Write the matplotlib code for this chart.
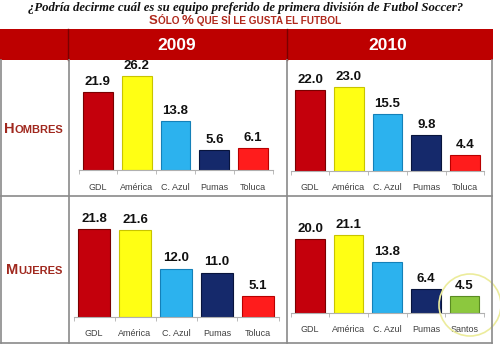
import matplotlib.pyplot as plt
from matplotlib.patches import Rectangle, Ellipse
from matplotlib.lines import Line2D
from matplotlib.offsetbox import TextArea, HPacker, AnnotationBbox

# data
teams = ["GDL", "América", "C. Azul", "Pumas", "Toluca"]
teams_m2010 = ["GDL", "América", "C. Azul", "Pumas", "Santos"]
hombres_2009 = [21.9, 26.2, 13.8, 5.6, 6.1]
hombres_2010 = [22.0, 23.0, 15.5, 9.8, 4.4]
mujeres_2009 = [21.8, 21.6, 12.0, 11.0, 5.1]
mujeres_2010 = [20.0, 21.1, 13.8, 6.4, 4.5]
years = ["2009", "2010"]

team_colors = {
    "GDL": ("#c4000c", "#7a0000"),
    "América": ("#ffff14", "#c8c400"),
    "C. Azul": ("#2cb2ee", "#1480b8"),
    "Pumas": ("#15296b", "#08143c"),
    "Toluca": ("#ff1c1c", "#b80000"),
    "Santos": ("#8cc83e", "#5a8c22"),
}

W, H = 500, 353
fig = plt.figure(figsize=(W / 100, H / 100), dpi=100)
fig.patch.set_facecolor("white")


def fx(x):
    return x / W


def fy(y):
    return 1 - y / H


def small_caps(parts, xy, color, big=10, small=7.5, family="Liberation Sans"):
    boxes = []
    for txt, is_big in parts:
        boxes.append(TextArea(txt, textprops=dict(size=big if is_big else small,
                                                  color=color, weight="bold",
                                                  family=family)))
    pack = HPacker(children=boxes, align="baseline", pad=0, sep=0)
    ab = AnnotationBbox(pack, xy, xycoords="figure fraction", frameon=False,
                        box_alignment=(0.5, 0.5), pad=0)
    fig.add_artist(ab)


# title
fig.text(fx(246), fy(8), "¿Podría decirme cuál es su equipo preferido de primera división de Futbol Soccer?",
         ha="center", va="center", family="Liberation Serif", style="italic",
         weight="bold", size=9.2, color="#111111")
small_caps([("S", True), ("ÓLO ", False), ("%", True), (" QUE SÍ LE GUSTA EL FUTBOL", False)],
           (fx(245), fy(20.5)), "#b0281c", big=9.5, small=7.2)

# header band
fig.add_artist(Rectangle((fx(0), fy(60)), fx(493), (60 - 29) / H,
                         transform=fig.transFigure, facecolor="#bd0000", edgecolor="none"))
for xv in (68, 287):
    fig.add_artist(Line2D([fx(xv), fx(xv)], [fy(60), fy(29)], transform=fig.transFigure,
                          color="#7a0000", lw=1))
fig.text(fx(177), fy(45), years[0], ha="center", va="center", color="white",
         weight="bold", size=12.5, family="Liberation Sans")
fig.text(fx(388), fy(45), years[1], ha="center", va="center", color="white",
         weight="bold", size=12.5, family="Liberation Sans")

# table grid
grid_kw = dict(transform=fig.transFigure, color="#8a8a8a", lw=1.2)
fig.add_artist(Line2D([fx(1), fx(1)], [fy(60), fy(343)], **grid_kw))
fig.add_artist(Line2D([fx(68.5), fx(68.5)], [fy(60), fy(343)], **grid_kw))
fig.add_artist(Line2D([fx(286.5), fx(286.5)], [fy(60), fy(343)], **grid_kw))
fig.add_artist(Line2D([fx(492), fx(492)], [fy(60), fy(343)], **grid_kw))
fig.add_artist(Line2D([fx(1), fx(492)], [fy(196), fy(196)], **grid_kw))
fig.add_artist(Line2D([fx(1), fx(492)], [fy(343), fy(343)], **grid_kw))

small_caps([("H", True), ("OMBRES", False)], (fx(34), fy(129)), "#a0281e", big=10.5, small=8)
small_caps([("M", True), ("UJERES", False)], (fx(34), fy(270)), "#a0281e", big=10.5, small=8)

# (left, right, baseline, px per unit) in pixels
panels = [
    (hombres_2009, teams, (78.5, 272.5, 170, 3.57)),
    (hombres_2010, teams, (290.6, 484.4, 171, 3.66)),
    (mujeres_2009, teams, (73.5, 278.5, 317, 4.04)),
    (mujeres_2010, teams_m2010, (290.7, 483.8, 313, 3.70)),
]

ymax = 30
for vals, names, (left, right, base, ppu) in panels:
    top = base - ppu * ymax
    ax = fig.add_axes([fx(left), fy(base), (right - left) / W, (base - top) / H])
    ax.patch.set_visible(False)
    x = list(range(len(vals)))
    fc = [team_colors[n][0] for n in names]
    ec = [team_colors[n][1] for n in names]
    bars = ax.bar(x, vals, width=0.77, color=fc, edgecolor=ec, linewidth=0.8)
    for b, v in zip(bars, vals):
        ax.annotate(f"{v:.1f}", (b.get_x() + b.get_width() / 2, v), xytext=(0, 3),
                    textcoords="offset points", ha="center", va="bottom",
                    weight="bold", size=9.5, family="Liberation Sans", color="#111111")
    ax.set_xlim(-0.5, len(vals) - 0.5)
    ax.set_ylim(0, ymax)
    for s in ("top", "right", "left"):
        ax.spines[s].set_visible(False)
    ax.spines["bottom"].set_color("#b0b0b0")
    ax.set_yticks([])
    ax.set_xticks(x)
    ax.set_xticklabels(names, family="Liberation Sans", size=6.5, color="#404040")
    ax.set_xticks([i - 0.5 for i in range(len(vals) + 1)], minor=True)
    ax.tick_params(axis="x", which="major", length=0, pad=9)
    ax.tick_params(axis="x", which="minor", length=3, color="#b0b0b0")

# highlight circle around Santos
fig.add_artist(Ellipse((fx(470), fy(305)), 62 / W, 62 / H, transform=fig.transFigure,
                       facecolor="none", edgecolor="#ecec9c", lw=1.2))

fig.savefig("out.png", dpi=100)
